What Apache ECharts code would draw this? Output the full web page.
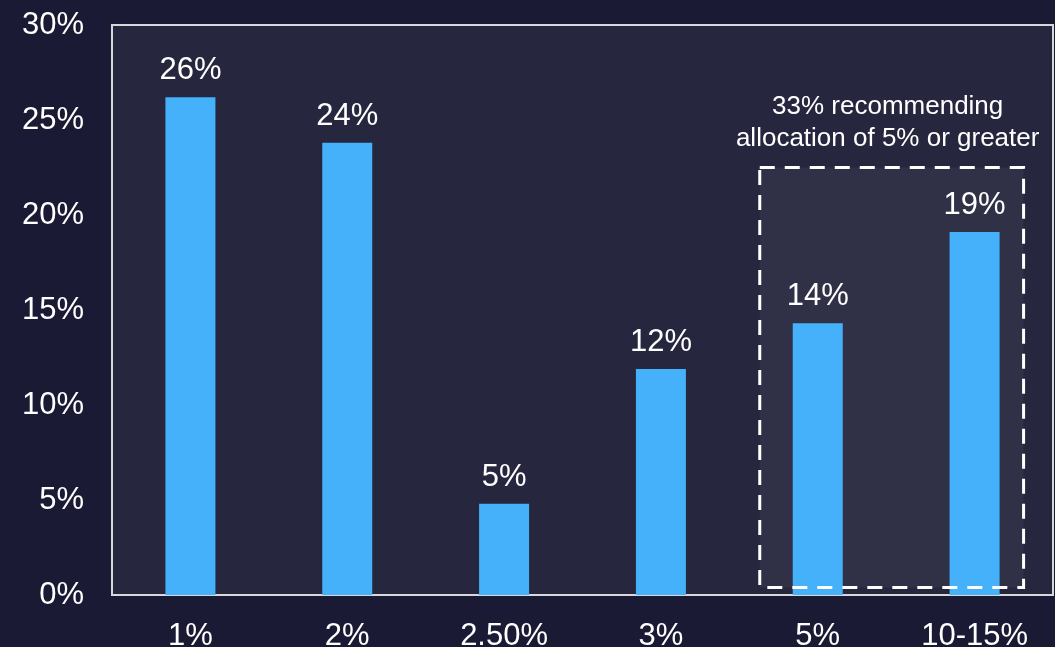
<!DOCTYPE html>
<html><head><meta charset="utf-8">
<script src="https://cdn.jsdelivr.net/npm/echarts@6/dist/echarts.min.js"></script>
<style>html,body{margin:0;padding:0;background:#1a1a35;}#c{width:1055px;height:647px;}</style>
</head><body><div id="c"></div>
<script>
const categories = ['1%', '2%', '2.50%', '3%', '5%', '10-15%'];
const values = [26.2, 23.8, 4.8, 11.9, 14.3, 19.1];
const yTicks = [0, 5, 10, 15, 20, 25, 30];
const boxFrom = '5%', boxTo = '10-15%';
const boxTopValue = 22.5, boxBottomValue = 0.4;
const annotationLines = ['33% recommending', 'allocation of 5% or greater'];

const FONT = '"Liberation Sans", Arial, sans-serif';
const chart = echarts.init(document.getElementById('c'));
const option = {
  backgroundColor: '#1a1a35',
  animation: false,
  grid: { left: 112, top: 25, right: 2, bottom: 52, outerBoundsMode: 'none', containLabel: false,
    show: true, backgroundColor: '#26263e', borderColor: '#d8d8d8', borderWidth: 2 },
  xAxis: {
    type: 'category', data: categories,
    axisLine: { lineStyle: { color: '#d8d8d8', width: 2 } },
    axisTick: { show: false },
    axisLabel: { color: '#ffffff', fontSize: 31, fontFamily: FONT, margin: 26 }
  },
  yAxis: {
    type: 'value', min: yTicks[0], max: yTicks[yTicks.length - 1], interval: 5,
    splitLine: { show: false },
    axisLine: { show: false },
    axisLabel: { color: '#ffffff', fontSize: 31, fontFamily: FONT, margin: 28, formatter: v => v + '%' }
  },
  series: [{
    type: 'bar', data: values, barWidth: 50, z: 2,
    itemStyle: { color: '#45b1fb' },
    label: { show: true, position: 'top', distance: 11, color: '#ffffff', fontSize: 31, fontFamily: FONT,
      formatter: p => Math.round(p.value) + '%' }
  }]
};
chart.setOption(option);

const cx0 = chart.convertToPixel({ xAxisIndex: 0 }, boxFrom);
const cx1 = chart.convertToPixel({ xAxisIndex: 0 }, boxTo);
const yTop = chart.convertToPixel({ yAxisIndex: 0 }, boxTopValue);
const yBot = chart.convertToPixel({ yAxisIndex: 0 }, boxBottomValue);
const x0 = cx0 - 58, x1 = cx1 + 49;
const midX = (x0 + x1) / 2 - 4;
chart.setOption({
  graphic: [
    { type: 'rect', z: 1, silent: true, shape: { x: x0, y: yTop, width: x1 - x0, height: yBot - yTop },
      style: { fill: '#303047' } },
    { type: 'rect', z: 10, silent: true, shape: { x: x0, y: yTop, width: x1 - x0, height: yBot - yTop },
      style: { fill: null, stroke: '#ffffff', lineWidth: 3, lineDash: [15, 10] } },
    { type: 'text', z: 10, silent: true, x: midX, y: yTop - 61,
      style: { text: annotationLines[0], fill: '#ffffff', font: '26px ' + FONT, textAlign: 'center', textVerticalAlign: 'middle' } },
    { type: 'text', z: 10, silent: true, x: midX, y: yTop - 29,
      style: { text: annotationLines[1], fill: '#ffffff', font: '26px ' + FONT, textAlign: 'center', textVerticalAlign: 'middle' } }
  ]
});
</script></body></html>
